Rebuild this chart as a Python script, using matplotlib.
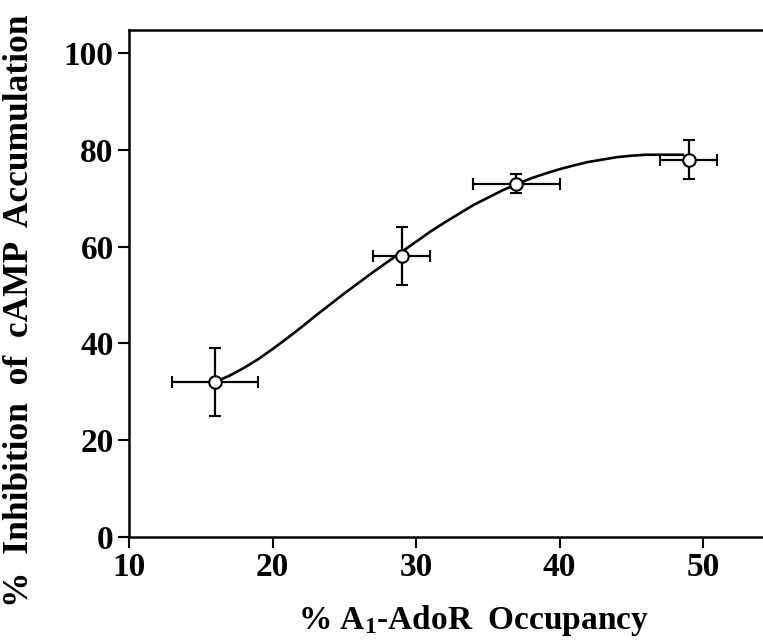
import matplotlib
matplotlib.use("Agg")
import matplotlib.pyplot as plt

# Data points (mean, with x and y errors)
occupancy = [16.0, 29.0, 37.0, 49.0]
inhibition = [32.0, 58.0, 73.0, 78.0]
occ_err = [3.0, 2.0, 3.0, 2.0]
inh_err = [7.0, 6.0, 2.0, 4.0]

# Fitted curve
curve_x = [16, 17, 18, 19, 20, 21, 22, 23, 24, 25, 26, 27, 28, 29, 30, 31, 32,
           33, 34, 35, 36, 37, 38, 39, 40, 41, 42, 43, 44, 45, 46, 47, 48, 48.6]
curve_y = [32.0, 33.3, 34.9, 36.7, 38.8, 41.0, 43.3, 45.7, 48.0, 50.3, 52.5,
           54.7, 56.8, 58.9, 61.0, 63.1, 65.0, 66.8, 68.6, 70.1, 71.6, 72.9,
           74.1, 75.1, 76.0, 76.8, 77.5, 78.0, 78.5, 78.8, 79.0, 79.0, 79.0, 79.0]

xticks = [10, 20, 30, 40, 50]
yticks = [0, 20, 40, 60, 80, 100]

plt.rcParams['font.family'] = ['Liberation Serif', 'DejaVu Serif']
plt.rcParams['font.weight'] = 'bold'
plt.rcParams['mathtext.fontset'] = 'custom'
plt.rcParams['mathtext.rm'] = 'Liberation Serif:bold'
plt.rcParams['mathtext.bf'] = 'Liberation Serif:bold'
plt.rcParams['mathtext.it'] = 'Liberation Serif:bold'

fig = plt.figure(figsize=(7.63, 6.41), dpi=100)
ax = fig.add_axes([129 / 763, 1 - 536.7 / 641, (45 * 14.35) / 763, (536.7 - 30) / 641])

ax.plot(curve_x, curve_y, color='black', lw=1.9, zorder=2,
        solid_joinstyle='round')
ax.errorbar(occupancy, inhibition, xerr=occ_err, yerr=inh_err, fmt='o',
            color='black', mfc='white', mec='black', mew=1.5, ms=9,
            ecolor='black', elinewidth=1.6, capsize=4.5, capthick=1.6, zorder=3)

ax.set_xlim(10, 55)
ax.set_ylim(0, 104.8)
ax.set_xticks(xticks)
ax.set_yticks(yticks)
ax.tick_params(direction='out', length=8, width=1.5, labelsize=24, pad=3)
for lab in ax.get_xticklabels() + ax.get_yticklabels():
    lab.set_fontweight('bold')
for s in ['left', 'bottom', 'top']:
    ax.spines[s].set_linewidth(1.8)
ax.spines['right'].set_visible(False)

fig.text(20 / 763, 1 - 311 / 641, '%  Inhibition  of  cAMP  Accumulation', rotation=90,
         ha='center', va='center', fontsize=25.5, fontweight='bold')
fig.text(473 / 763, 1 - 621 / 641, r'% A$_\mathbf{1}$-AdoR  Occupancy',
         ha='center', va='center', fontsize=24, fontweight='bold')

fig.savefig('out.png', dpi=100)
